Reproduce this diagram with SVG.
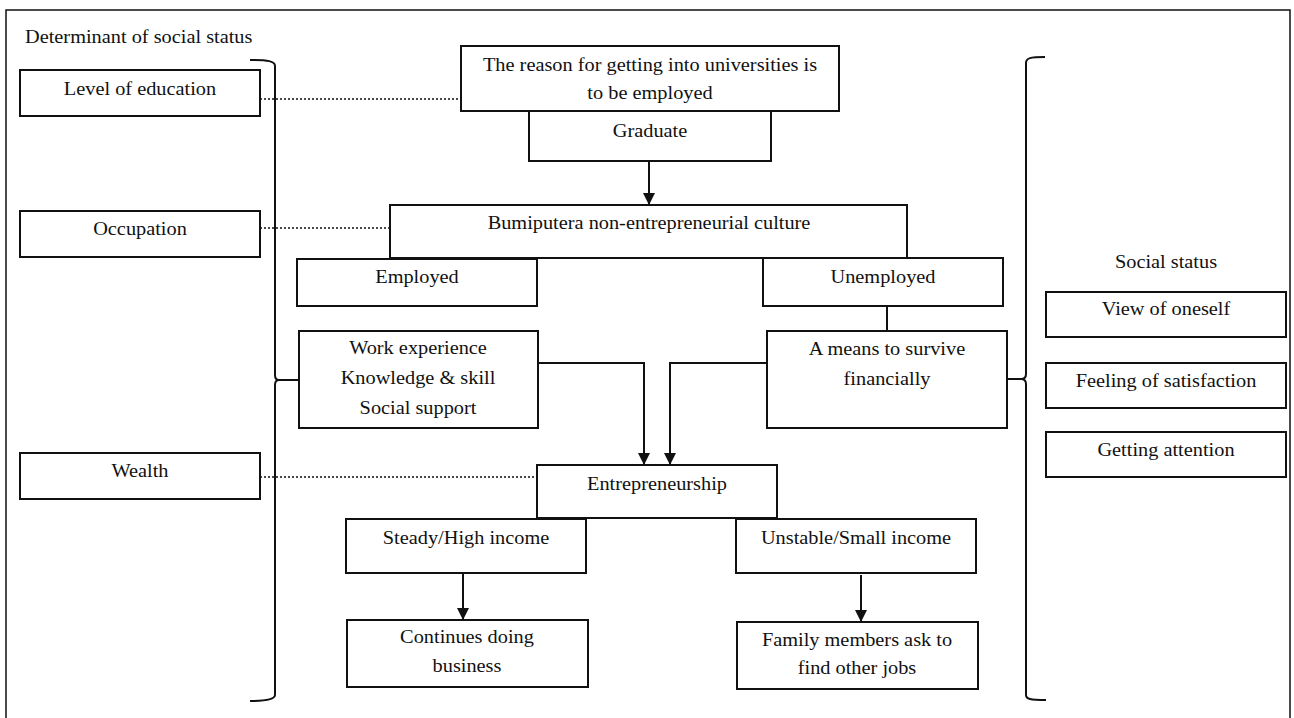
<svg xmlns="http://www.w3.org/2000/svg" width="1294" height="718" viewBox="0 0 1294 718">
<defs>
<style>
.b{fill:#fff;stroke:#111;stroke-width:2}
.t{font-family:"Liberation Serif","Times New Roman",serif;font-size:18px;text-anchor:middle;fill:#111}
.c{fill:none;stroke:#111;stroke-width:2}
.d{fill:none;stroke:#111;stroke-width:1.6;stroke-dasharray:2 2}
</style>
<marker id="ah" viewBox="0 0 12 12" refX="12" refY="6" markerWidth="12" markerHeight="12" markerUnits="userSpaceOnUse" orient="auto">
<path d="M0,0 L12,6 L0,12 Z" fill="#111"/>
</marker>
</defs>
<rect width="1294" height="718" fill="#fff"/>
<path d="M6,730 V10 H1290 V730" fill="none" stroke="#111" stroke-width="1.5"/>
<text class="t" style="text-anchor:start" transform="translate(25 43) scale(1.13 1)">Determinant of social status</text>
<text class="t" transform="translate(1166 268) scale(1.13 1)">Social status</text>

<g id="connectors">
<path class="d" d="M260,99 H461"/>
<path class="d" d="M260,228 H390"/>
<path class="d" d="M260,477 H537"/>
<path class="c" d="M250,60 C268,60 275,61 275,66 V375 Q275,380 279,380 Q275,380 275,385 V695 C275,699 268,701 250,701"/>
<path class="c" d="M279,380 H299"/>
<path class="c" d="M1045,57 C1030,57 1026,58 1026,63 V374 Q1026,379 1021,379 Q1026,379 1026,384 V695 C1026,699 1030,700 1046,700"/>
<path class="c" d="M1007,379 H1021"/>
<path class="c" d="M649,161 V205" marker-end="url(#ah)"/>
<path class="c" d="M887,306 V331"/>
<path class="c" d="M538,363 H644 V465" marker-end="url(#ah)"/>
<path class="c" d="M767,363 H670 V465" marker-end="url(#ah)"/>
<path class="c" d="M463,573 V620" marker-end="url(#ah)"/>
<path class="c" d="M861,575 V622" marker-end="url(#ah)"/>
</g>

<g id="level"><rect class="b" x="20" y="70" width="240" height="46"/><text class="t" transform="translate(140 95) scale(1.13 1)">Level of education</text></g>
<g id="occupation"><rect class="b" x="20" y="211" width="240" height="46"/><text class="t" transform="translate(140 235) scale(1.13 1)">Occupation</text></g>
<g id="wealth"><rect class="b" x="20" y="453" width="240" height="46"/><text class="t" transform="translate(140 477) scale(1.13 1)">Wealth</text></g>

<g id="reason"><rect class="b" x="461" y="46" width="378" height="65"/>
<text class="t" transform="translate(650 71) scale(1.13 1)">The reason for getting into universities is</text>
<text class="t" transform="translate(650 99) scale(1.13 1)">to be employed</text></g>
<g id="graduate"><rect class="b" x="529" y="111" width="242" height="50"/><text class="t" transform="translate(650 137) scale(1.13 1)">Graduate</text></g>
<g id="bumiputera"><rect class="b" x="390" y="205" width="517" height="53"/><text class="t" transform="translate(649 229) scale(1.13 1)">Bumiputera non-entrepreneurial culture</text></g>
<g id="employed"><rect class="b" x="297" y="259" width="240" height="47"/><text class="t" transform="translate(417 283) scale(1.13 1)">Employed</text></g>
<g id="unemployed"><rect class="b" x="763" y="258" width="240" height="48"/><text class="t" transform="translate(883 283) scale(1.13 1)">Unemployed</text></g>
<g id="workexp"><rect class="b" x="299" y="331" width="239" height="97"/>
<text class="t" transform="translate(418 354) scale(1.13 1)">Work experience</text>
<text class="t" transform="translate(418 384) scale(1.13 1)">Knowledge &amp; skill</text>
<text class="t" transform="translate(418 414) scale(1.13 1)">Social support</text></g>
<g id="means"><rect class="b" x="767" y="331" width="240" height="97"/>
<text class="t" transform="translate(887 355) scale(1.13 1)">A means to survive</text>
<text class="t" transform="translate(887 385) scale(1.13 1)">financially</text></g>
<g id="entrepreneurship"><rect class="b" x="537" y="465" width="240" height="53"/><text class="t" transform="translate(657 490) scale(1.13 1)">Entrepreneurship</text></g>
<g id="steady"><rect class="b" x="346" y="519" width="240" height="54"/><text class="t" transform="translate(466 544) scale(1.13 1)">Steady/High income</text></g>
<g id="unstable"><rect class="b" x="736" y="519" width="240" height="54"/><text class="t" transform="translate(856 544) scale(1.13 1)">Unstable/Small income</text></g>
<g id="continues"><rect class="b" x="347" y="620" width="241" height="67"/>
<text class="t" transform="translate(467 643) scale(1.13 1)">Continues doing</text>
<text class="t" transform="translate(467 672) scale(1.13 1)">business</text></g>
<g id="family"><rect class="b" x="737" y="622" width="241" height="67"/>
<text class="t" transform="translate(857 646) scale(1.13 1)">Family members ask to</text>
<text class="t" transform="translate(857 674) scale(1.13 1)">find other jobs</text></g>
<g id="view"><rect class="b" x="1046" y="292" width="240" height="45"/><text class="t" transform="translate(1166 315) scale(1.13 1)">View of oneself</text></g>
<g id="feeling"><rect class="b" x="1046" y="363" width="240" height="45"/><text class="t" transform="translate(1166 387) scale(1.13 1)">Feeling of satisfaction</text></g>
<g id="attention"><rect class="b" x="1046" y="432" width="240" height="45"/><text class="t" transform="translate(1166 456) scale(1.13 1)">Getting attention</text></g>
</svg>
